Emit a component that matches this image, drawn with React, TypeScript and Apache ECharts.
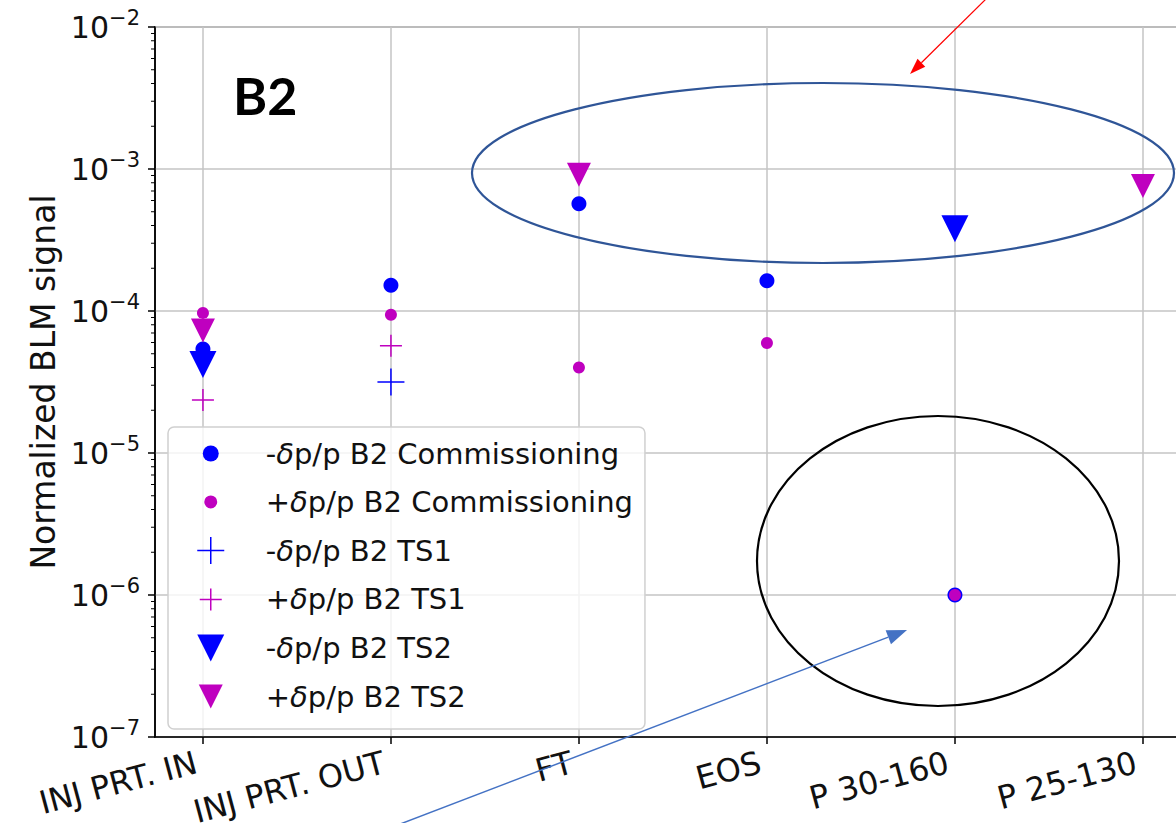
import React, { useEffect, useRef } from "react";
import * as echarts from "echarts";

// Measurement locations along the ring
const categories = ["INJ PRT. IN", "INJ PRT. OUT", "FT", "EOS", "P 30-160", "P 25-130"];
const categoryIndex = [0, 1, 2, 3, 4, 5];

// [category index, normalized BLM signal]
const negCommissioning = [[0, 5.4e-5], [1, 1.52e-4], [2, 5.7e-4], [3, 1.63e-4], [4, 1.0e-6]];
const posCommissioning = [[0, 9.7e-5], [1, 9.4e-5], [2, 4.0e-5], [3, 5.95e-5], [4, 1.0e-6]];
const negTS1 = [[1, 3.16e-5]];
const posTS1 = [[0, 2.36e-5], [1, 5.7e-5]];
const negTS2 = [[0, 4.2e-5], [4, 3.8e-4]];
const posTS2 = [[0, 7.3e-5], [2, 9.1e-4], [5, 7.6e-4]];

// Log axis: decades and the minor tick multipliers inside each decade
const decadeExponents = [-7, -6, -5, -4, -3];
const minorMultipliers = [2, 3, 4, 5, 6, 7, 8, 9];

const seriesNames = [
  "-δp/p B2 Commissioning",
  "+δp/p B2 Commissioning",
  "-δp/p B2 TS1",
  "+δp/p B2 TS1",
  "-δp/p B2 TS2",
  "+δp/p B2 TS2",
];

const BLUE = "#0000ff";
const MAGENTA = "#bf00bf";
const FONT = "DejaVu Sans";
const X_MIN = -0.255;
const X_MAX = 5.255;
const CHART_W = 1210;

const PLUS = "path://M0,10L20,10M10,0L10,20";
const TRI_DOWN = "path://M0,0L20,0L10,20Z";

// Legend icons share an 80x28 box; the two leading moves fix the box so each
// marker keeps its own size, centred 30px from the left
const LEGEND_ICONS = [
  "path://M0,0M80,28M22,14A8,8,0,1,0,38,14A8,8,0,1,0,22,14Z",
  "path://M0,0M80,28M23.5,14A6.5,6.5,0,1,0,36.5,14A6.5,6.5,0,1,0,23.5,14Z",
  "path://M0,0M80,28M16.5,14L43.5,14M30,0.5L30,27.5",
  "path://M0,0M80,28M19,14L41,14M30,3L30,25",
  "path://M0,0M80,28M16.5,0.5L43.5,0.5L30,27.5Z",
  "path://M0,0M80,28M18,2L42,2L30,26Z",
];

function arrowHead(x1: number, y1: number, x2: number, y2: number, len: number, wid: number) {
  const dx = x2 - x1;
  const dy = y2 - y1;
  const l = Math.hypot(dx, dy);
  const ux = dx / l;
  const uy = dy / l;
  const bx = x2 - ux * len;
  const by = y2 - uy * len;
  return {
    base: [bx, by],
    points: [
      [x2, y2],
      [bx - (uy * wid) / 2, by + (ux * wid) / 2],
      [bx + (uy * wid) / 2, by - (ux * wid) / 2],
    ],
  };
}

function buildOption() {
  const minorTicks: number[][] = [];
  decadeExponents.forEach((e) =>
    minorMultipliers.forEach((m) => minorTicks.push([X_MIN, m * Math.pow(10, e)]))
  );

  const red = arrowHead(987, -2, 910, 74, 16, 11);
  const blueArrow = arrowHead(395, 826, 907, 630, 20, 15);

  return {
    animation: false,
    backgroundColor: "#ffffff",
    grid: {
      left: 155,
      top: 27,
      width: (X_MAX - X_MIN) * 188,
      height: 710,
      outerBoundsMode: "none",
      containLabel: false,
      show: true,
      borderColor: "#000",
      borderWidth: 1.5,
    },
    xAxis: {
      type: "value",
      min: X_MIN,
      max: X_MAX,
      axisLine: { show: true, onZero: false, lineStyle: { color: "#000", width: 1.5 } },
      axisTick: {
        show: true,
        customValues: categoryIndex,
        length: 7,
        lineStyle: { color: "#000", width: 1.5 },
      },
      axisLabel: {
        customValues: categoryIndex,
        rotate: 15,
        margin: 23,
        padding: [0, 7, 0, 0],
        fontSize: 32,
        fontFamily: FONT,
        color: "#111",
        formatter: (v: number) => categories[Math.round(v)] ?? "",
      },
      splitLine: { show: true, lineStyle: { color: "#c4c4c4", width: 1.5 } },
    },
    yAxis: {
      type: "log",
      logBase: 10,
      min: 1e-7,
      max: 1e-2,
      name: "Normalized BLM signal",
      nameLocation: "middle",
      nameGap: 95,
      nameTextStyle: { fontSize: 33, fontFamily: FONT, color: "#111" },
      axisLine: { show: true, onZero: false, lineStyle: { color: "#000", width: 1.5 } },
      axisTick: { show: true, inside: false, length: 7, lineStyle: { color: "#000", width: 1.5 } },
      axisLabel: {
        margin: 15,
        formatter: (v: number) => `{b|10}{e|−${Math.abs(Math.round(Math.log10(v)))}}`,
        rich: {
          b: { fontSize: 30, fontFamily: FONT, color: "#111", lineHeight: 40 },
          e: { fontSize: 21, fontFamily: FONT, color: "#111", lineHeight: 22, verticalAlign: "top" },
        },
      },
      splitLine: { show: true, lineStyle: { color: "#c4c4c4", width: 1.5 } },
    },
    legend: {
      orient: "vertical",
      left: 168,
      top: 427,
      padding: [12, 12, 18, 12],
      itemWidth: 80,
      itemHeight: 28,
      itemGap: 19.4,
      backgroundColor: "rgba(255,255,255,0.8)",
      borderColor: "#d0d0d0",
      borderWidth: 1.5,
      borderRadius: 6,
      data: seriesNames.map((name, i) => ({
        name,
        icon: LEGEND_ICONS[i],
        itemStyle: i === 2 || i === 3 ? { borderWidth: 1.5 } : { borderWidth: 0 },
      })),
      formatter: (name: string) => name.replace("δ", "{i|δ}"),
      textStyle: {
        fontSize: 29,
        fontFamily: FONT,
        color: "#111",
        lineHeight: 28,
        rich: {
          i: { fontSize: 29, fontFamily: FONT, fontStyle: "italic", color: "#111", lineHeight: 28 },
        },
      },
    },
    series: [
      {
        name: seriesNames[0],
        type: "scatter",
        symbol: "circle",
        symbolSize: 15,
        itemStyle: { color: BLUE, opacity: 1 },
        data: negCommissioning,
      },
      {
        name: seriesNames[1],
        type: "scatter",
        symbol: "circle",
        symbolSize: 12,
        itemStyle: { color: MAGENTA, opacity: 1 },
        data: posCommissioning,
      },
      {
        name: seriesNames[2],
        type: "scatter",
        symbol: PLUS,
        symbolSize: 27,
        itemStyle: { color: BLUE, borderColor: BLUE, borderWidth: 1.5, opacity: 1 },
        data: negTS1,
      },
      {
        name: seriesNames[3],
        type: "scatter",
        symbol: PLUS,
        symbolSize: 22,
        itemStyle: { color: MAGENTA, borderColor: MAGENTA, borderWidth: 1.5, opacity: 1 },
        data: posTS1,
      },
      {
        name: seriesNames[4],
        type: "scatter",
        symbol: TRI_DOWN,
        symbolSize: 27,
        itemStyle: { color: BLUE, opacity: 1 },
        data: negTS2,
      },
      {
        name: seriesNames[5],
        type: "scatter",
        symbol: TRI_DOWN,
        symbolSize: 24,
        itemStyle: { color: MAGENTA, opacity: 1 },
        data: posTS2,
      },
      {
        // minor ticks of the log axis at 2..9 x 10^n, drawn just left of the axis line
        type: "custom",
        silent: true,
        clip: false,
        renderItem: (_params: any, api: any) => {
          const p = api.coord([api.value(0), api.value(1)]);
          return {
            type: "line",
            shape: { x1: p[0] - 4, y1: p[1], x2: p[0], y2: p[1] },
            style: { stroke: "#000", lineWidth: 1 },
          };
        },
        data: minorTicks,
      },
    ],
    graphic: [
      {
        type: "text",
        left: 233,
        top: 69,
        style: { text: "B2", fontSize: 52, fontWeight: "bold", fontFamily: "Lato", fill: "#000" },
        z: 10,
      },
      {
        type: "ellipse",
        shape: { cx: 823, cy: 173, rx: 351, ry: 90 },
        style: { fill: "none", stroke: "#2f5597", lineWidth: 2.2 },
        z: 10,
      },
      {
        type: "ellipse",
        shape: { cx: 938, cy: 561, rx: 181, ry: 145 },
        style: { fill: "none", stroke: "#000", lineWidth: 2.2 },
        z: 10,
      },
      {
        type: "line",
        shape: { x1: 987, y1: -2, x2: red.base[0], y2: red.base[1] },
        style: { stroke: "#ff0000", lineWidth: 1.2 },
        z: 10,
      },
      {
        type: "polygon",
        shape: { points: red.points },
        style: { fill: "#ff0000" },
        z: 10,
      },
      {
        type: "line",
        shape: { x1: 395, y1: 826, x2: blueArrow.base[0], y2: blueArrow.base[1] },
        style: { stroke: "#4472c4", lineWidth: 1.5 },
        z: 10,
      },
      {
        type: "polygon",
        shape: { points: blueArrow.points },
        style: { fill: "#4472c4" },
        z: 10,
      },
    ],
  };
}

export default function App() {
  const ref = useRef<HTMLDivElement>(null);
  useEffect(() => {
    if (!ref.current) return;
    const chart = echarts.init(ref.current, undefined, { renderer: "svg" });
    chart.setOption(buildOption() as any);
    return () => chart.dispose();
  }, []);
  // The plot runs past the right edge of the figure, so the chart is wider
  // than the visible frame, which clips it.
  return (
    <div
      style={{
        position: "absolute",
        left: 0,
        top: 0,
        width: 1176,
        height: 823,
        overflow: "hidden",
        background: "#fff",
      }}
    >
      <div ref={ref} style={{ width: CHART_W, height: 823 }} />
    </div>
  );
}
